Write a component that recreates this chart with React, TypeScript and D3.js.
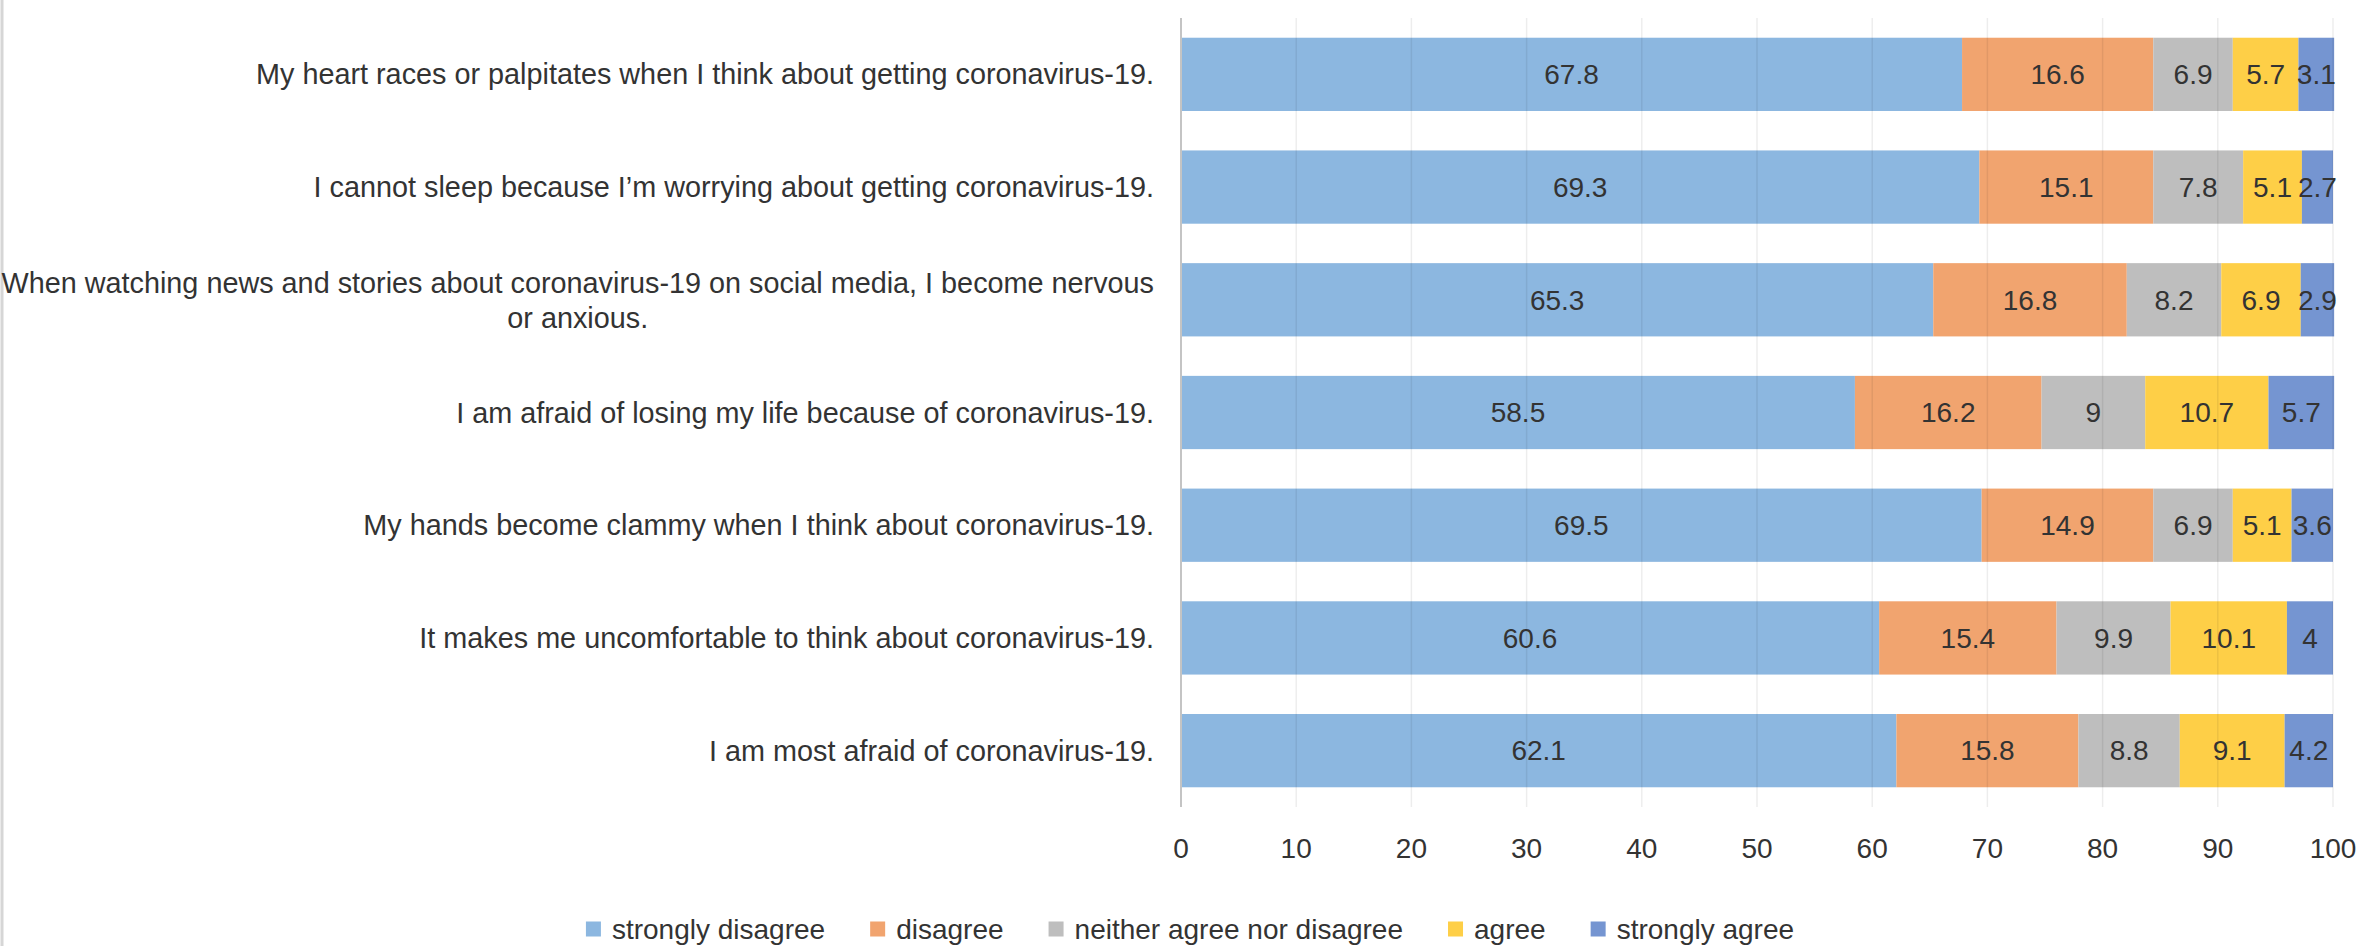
import { useRef, useEffect } from 'react';
import * as d3 from 'd3';

const categories = [
	'My heart races or palpitates when I think about getting coronavirus-19.',
	'I cannot sleep because I\u2019m worrying about getting coronavirus-19.',
	'When watching news and stories about coronavirus-19 on social media, I become nervous|or anxious.',
	'I am afraid of losing my life because of coronavirus-19.',
	'My hands become clammy when I think about coronavirus-19.',
	'It makes me uncomfortable to think about coronavirus-19.',
	'I am most afraid of coronavirus-19.',
];

const seriesNames = [
	'strongly disagree',
	'disagree',
	'neither agree nor disagree',
	'agree',
	'strongly agree',
];

const stronglyDisagree = [67.8, 69.3, 65.3, 58.5, 69.5, 60.6, 62.1];
const disagree = [16.6, 15.1, 16.8, 16.2, 14.9, 15.4, 15.8];
const neither = [6.9, 7.8, 8.2, 9, 6.9, 9.9, 8.8];
const agree = [5.7, 5.1, 6.9, 10.7, 5.1, 10.1, 9.1];
const stronglyAgree = [3.1, 2.7, 2.9, 5.7, 3.6, 4, 4.2];

const xTicks = [0, 10, 20, 30, 40, 50, 60, 70, 80, 90, 100];

const colors = ['#8cb7e0', '#f1a46f', '#bebebe', '#fecf47', '#7595d1'];

const W = 2365;
const H = 946;
const FONT = '"Liberation Sans", Arial, sans-serif';
const FS = 28;
const LABEL_FS = 28.8;
const TEXT = '#333333';

export default function App() {
	const svgRef = useRef<SVGSVGElement>(null);

	useEffect(() => {
		const svg = d3.select(svgRef.current);
		svg.selectAll('*').remove();

		const plot = { left: 1181, right: 2333, top: 18, bottom: 807 };

		const x = d3.scaleLinear().domain([0, 100]).range([plot.left, plot.right]);
		const y = d3
			.scaleBand<number>()
			.domain(d3.range(categories.length))
			.range([plot.top, plot.bottom])
			.paddingInner(0.35)
			.paddingOuter(0.175);

		svg.append('rect').attr('width', W).attr('height', H).attr('fill', '#fff');

		// left frame edge of the original image
		svg.append('line')
			.attr('x1', 2).attr('x2', 2).attr('y1', 0).attr('y2', H)
			.attr('stroke', '#d6d6d6').attr('stroke-width', 3);

		const series = [stronglyDisagree, disagree, neither, agree, stronglyAgree];
		const rows = categories.map((_, i) => {
			const r: Record<string, number> = {};
			seriesNames.forEach((s, k) => (r[s] = series[k][i]));
			return r;
		});
		const stacked = d3.stack<Record<string, number>>().keys(seriesNames)(rows);

		// bars
		stacked.forEach((layer, k) => {
			svg.append('g')
				.selectAll('rect')
				.data(layer)
				.join('rect')
				.attr('x', (d) => x(d[0]))
				.attr('y', (_, i) => y(i)!)
				.attr('width', (d) => x(d[1]) - x(d[0]))
				.attr('height', y.bandwidth())
				.attr('fill', colors[k]);
		});

		// gridlines (show faintly through bars)
		svg.append('g')
			.selectAll('line')
			.data(xTicks.slice(1))
			.join('line')
			.attr('x1', (d) => x(d))
			.attr('x2', (d) => x(d))
			.attr('y1', plot.top)
			.attr('y2', plot.bottom)
			.attr('stroke', 'rgba(0,0,0,0.07)')
			.attr('stroke-width', 1.5);

		// value axis line
		svg.append('line')
			.attr('x1', x(0)).attr('x2', x(0))
			.attr('y1', plot.top).attr('y2', plot.bottom)
			.attr('stroke', '#c4c4c4').attr('stroke-width', 2);

		// tick labels
		svg.append('g')
			.selectAll('text')
			.data(xTicks)
			.join('text')
			.attr('x', (d) => x(d))
			.attr('y', 848)
			.attr('dy', '0.35em')
			.attr('text-anchor', 'middle')
			.attr('font-family', FONT)
			.attr('font-size', FS)
			.attr('fill', TEXT)
			.text((d) => d);

		// data labels
		stacked.forEach((layer) => {
			svg.append('g')
				.selectAll('text')
				.data(layer)
				.join('text')
				.attr('x', (d) => (x(d[0]) + x(d[1])) / 2)
				.attr('y', (_, i) => y(i)! + y.bandwidth() / 2)
				.attr('dy', '0.35em')
				.attr('text-anchor', 'middle')
				.attr('font-family', FONT)
				.attr('font-size', FS)
				.attr('fill', TEXT)
				.text((d) => String(+(d[1] - d[0]).toFixed(1)));
		});

		// category labels
		const labelRight = plot.left - 27;
		categories.forEach((c, i) => {
			const lines = c.split('|');
			const cy = y(i)! + y.bandwidth() / 2;
			if (lines.length === 1) {
				svg.append('text')
					.attr('x', labelRight)
					.attr('y', cy)
					.attr('dy', '0.35em')
					.attr('text-anchor', 'end')
					.attr('font-family', FONT)
					.attr('font-size', LABEL_FS)
					.attr('fill', TEXT)
					.text(c);
			} else {
				const first = svg.append('text')
					.attr('x', labelRight)
					.attr('y', cy - 17)
					.attr('dy', '0.35em')
					.attr('text-anchor', 'end')
					.attr('font-family', FONT)
					.attr('font-size', LABEL_FS)
					.attr('fill', TEXT)
					.text(lines[0]);
				const w = (first.node() as SVGTextElement).getComputedTextLength();
				svg.append('text')
					.attr('x', labelRight - w / 2)
					.attr('y', cy + 18)
					.attr('dy', '0.35em')
					.attr('text-anchor', 'middle')
					.attr('font-family', FONT)
					.attr('font-size', LABEL_FS)
					.attr('fill', TEXT)
					.text(lines[1]);
			}
		});

		// legend
		const legend = svg.append('g');
		const box = 15;
		const gapText = 11;
		const gapItem = 45;
		let cx = 0;
		seriesNames.forEach((s, k) => {
			const item = legend.append('g').attr('transform', `translate(${cx},0)`);
			item.append('rect')
				.attr('x', 0).attr('y', -box / 2)
				.attr('width', box).attr('height', box)
				.attr('fill', colors[k]);
			const t = item.append('text')
				.attr('x', box + gapText)
				.attr('y', 0)
				.attr('dy', '0.35em')
				.attr('font-family', FONT)
				.attr('font-size', FS)
				.attr('fill', TEXT)
				.text(s);
			cx += box + gapText + (t.node() as SVGTextElement).getComputedTextLength() + gapItem;
		});
		const total = cx - gapItem;
		legend.attr('transform', `translate(${1190 - total / 2},929)`);
	}, []);

	return (
		<div style={{ position: 'absolute', left: 0, top: 0 }}>
			<svg ref={svgRef} width={W} height={H} style={{ display: 'block' }} />
		</div>
	);
}
